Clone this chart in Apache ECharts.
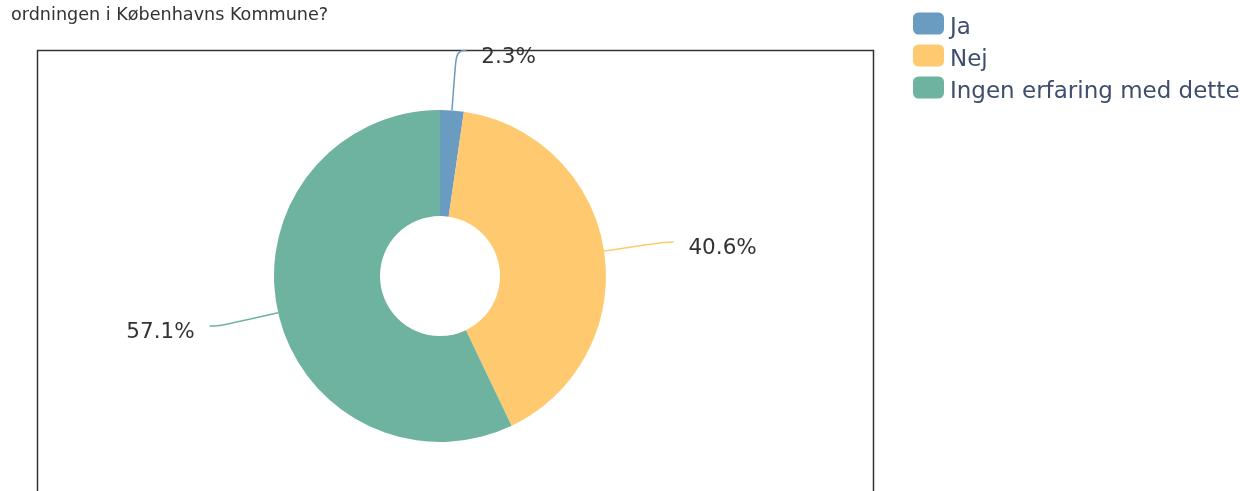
<!DOCTYPE html>
<html>
<head>
<meta charset="utf-8">
<script src="https://cdn.jsdelivr.net/npm/echarts@6/dist/echarts.min.js"></script>
<style>
html,body{margin:0;padding:0;background:#fff;}
#chart{width:1248px;height:491px;}
</style>
</head>
<body>
<div id="chart"></div>
<script>
const titleText = 'ordningen i Københavns Kommune?';
const categories = ['Ja', 'Nej', 'Ingen erfaring med dette'];
const values = [2.3, 40.6, 57.1];
const colors = ['#6a9bc1', '#fec96f', '#6eb3a0'];

const chart = echarts.init(document.getElementById('chart'));
chart.setOption({
  animation: false,
  color: colors,
  title: {
    text: titleText,
    left: 6, top: 1,
    textStyle: {fontFamily: 'DejaVu Sans', fontSize: 17.6, fontWeight: 'normal', color: '#333'}
  },
  graphic: [{
    type: 'rect',
    shape: {x: 37.5, y: 50.5, width: 836, height: 460},
    style: {fill: 'none', stroke: '#333', lineWidth: 1.5},
    z: -1
  }],
  legend: {
    orient: 'vertical',
    left: 908, top: 2,
    itemWidth: 31, itemHeight: 22, itemGap: -1,
    icon: 'roundRect',
    data: categories,
    formatter: name => '{t|' + name + '}',
    textStyle: {
      fontFamily: 'DejaVu Sans', fontSize: 23, color: '#3e4e6c',
      rich: {
        t: {fontFamily: 'DejaVu Sans', fontSize: 23, lineHeight: 23, color: '#3e4e6c', padding: [10, 0, 0, 1]}
      }
    }
  },
  series: [{
    type: 'pie',
    center: [440, 276],
    radius: [60, 166],
    startAngle: 90,
    clockwise: true,
    data: categories.map((c, i) => ({name: c, value: values[i]})),
    label: {
      formatter: p => '{v|' + p.value.toFixed(1) + '%}',
      distanceToLabelLine: 15,
      rich: {
        v: {fontFamily: 'DejaVu Sans', fontSize: 21.5, color: '#333', padding: [13, 0, 0, 0]}
      }
    },
    labelLine: {length: 60, length2: 10, smooth: 0.5, lineStyle: {width: 1.5}},
    emphasis: {disabled: true}
  }]
});
</script>
</body>
</html>
